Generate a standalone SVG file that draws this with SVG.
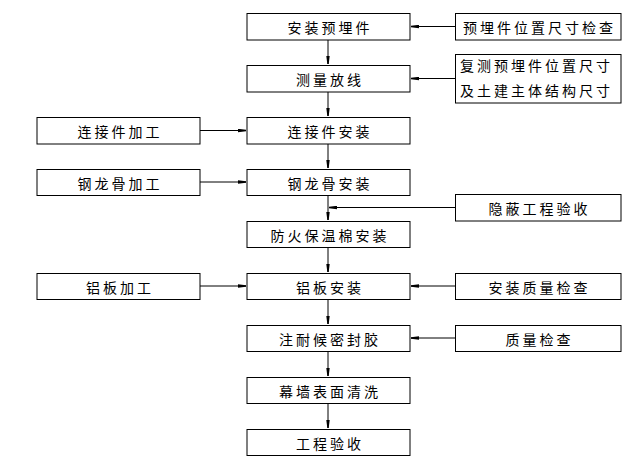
<svg xmlns="http://www.w3.org/2000/svg" width="642" height="468" viewBox="0 0 642 468">
<style>
.b{fill:#fff;stroke:#000;stroke-width:1}
.t{font-family:"Noto Sans CJK SC","Noto Sans",sans-serif;font-size:14px;letter-spacing:3px;fill:#000;text-anchor:middle;dominant-baseline:central}
.tl{font-family:"Noto Sans CJK SC","Noto Sans",sans-serif;font-size:14px;letter-spacing:3px;fill:#000}
.c{stroke:#000;stroke-width:1;fill:none;marker-end:url(#a)}
</style>
<defs>
<marker id="a" viewBox="0 0 8 4" refX="8" refY="2" markerWidth="8" markerHeight="4" markerUnits="userSpaceOnUse" orient="auto">
<path d="M0,0.3 L8,1.3 L8,2.7 L0,3.7 z" fill="#000"/>
</marker>
</defs>
<rect width="642" height="468" fill="#fff"/>
<g id="connectors">
<line class="c" x1="328" y1="40" x2="328" y2="64"/>
<line class="c" x1="328" y1="92" x2="328" y2="116"/>
<line class="c" x1="328" y1="144" x2="328" y2="168"/>
<line class="c" x1="328" y1="195" x2="328" y2="220"/>
<line class="c" x1="328" y1="247" x2="328" y2="272"/>
<line class="c" x1="328" y1="299" x2="328" y2="324"/>
<line class="c" x1="328" y1="351" x2="328" y2="376"/>
<line class="c" x1="328" y1="403" x2="328" y2="428"/>
<line class="c" x1="455" y1="26.5" x2="411" y2="26.5"/>
<line class="c" x1="455" y1="78.5" x2="411" y2="78.5"/>
<line class="c" x1="455" y1="207.5" x2="329" y2="207.5"/>
<line class="c" x1="455" y1="286" x2="411" y2="286"/>
<line class="c" x1="455" y1="338" x2="411" y2="338"/>
<line class="c" x1="200" y1="130.5" x2="246" y2="130.5"/>
<line class="c" x1="200" y1="182" x2="246" y2="182"/>
<line class="c" x1="200" y1="286" x2="246" y2="286"/>
</g>
<g id="n1"><rect class="b" x="247" y="13.5" width="163" height="26.5"/><text class="t" x="330" y="27">安装预埋件</text></g>
<g id="n2"><rect class="b" x="247" y="65.5" width="163" height="26.5"/><text class="t" x="330" y="79">测量放线</text></g>
<g id="n3"><rect class="b" x="247" y="117.5" width="163" height="26.5"/><text class="t" x="330" y="131">连接件安装</text></g>
<g id="n4"><rect class="b" x="247" y="169.5" width="163" height="26"/><text class="t" x="330" y="183">钢龙骨安装</text></g>
<g id="n5"><rect class="b" x="247" y="221.5" width="163" height="26"/><text class="t" x="330" y="235">防火保温棉安装</text></g>
<g id="n6"><rect class="b" x="247" y="273.5" width="163" height="26"/><text class="t" x="330" y="287">铝板安装</text></g>
<g id="n7"><rect class="b" x="247" y="325.5" width="163" height="26"/><text class="t" x="330" y="339">注耐候密封胶</text></g>
<g id="n8"><rect class="b" x="247" y="377.5" width="163" height="26"/><text class="t" x="330" y="391">幕墙表面清洗</text></g>
<g id="n9"><rect class="b" x="247" y="429.5" width="163" height="26"/><text class="t" x="330" y="443">工程验收</text></g>
<g id="r1"><rect class="b" x="455.5" y="13.5" width="165.5" height="26.5"/><text class="t" x="539.5" y="27">预埋件位置尺寸检查</text></g>
<g id="r2"><rect class="b" x="455.5" y="54.5" width="165.5" height="48.5"/><text class="tl" x="460" y="71">复测预埋件位置尺寸</text><text class="tl" x="460" y="96">及土建主体结构尺寸</text></g>
<g id="r3"><rect class="b" x="455.5" y="194.5" width="165.5" height="26.5"/><text class="t" x="539.5" y="208">隐蔽工程验收</text></g>
<g id="r4"><rect class="b" x="455.5" y="273.5" width="165.5" height="26"/><text class="t" x="539.5" y="287">安装质量检查</text></g>
<g id="r5"><rect class="b" x="455.5" y="325.5" width="165.5" height="26"/><text class="t" x="539.5" y="339">质量检查</text></g>
<g id="l1"><rect class="b" x="37" y="117.5" width="163" height="26.5"/><text class="t" x="120" y="131">连接件加工</text></g>
<g id="l2"><rect class="b" x="37" y="169.5" width="163" height="26"/><text class="t" x="120" y="183">钢龙骨加工</text></g>
<g id="l3"><rect class="b" x="37" y="273.5" width="163" height="26"/><text class="t" x="120" y="287">铝板加工</text></g>
</svg>
